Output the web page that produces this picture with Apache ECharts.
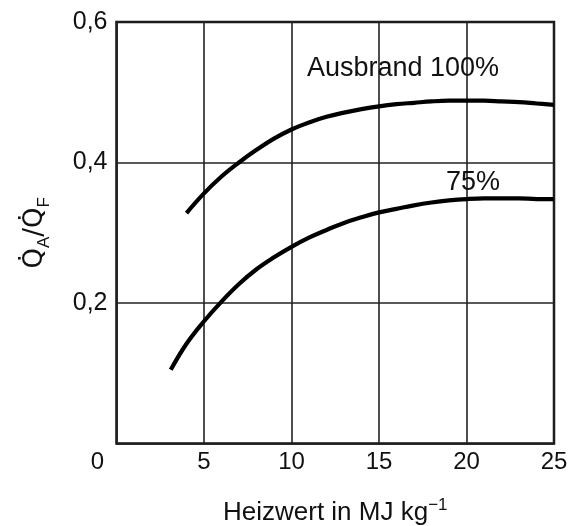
<!DOCTYPE html>
<html>
<head>
<meta charset="utf-8">
<script src="https://cdn.jsdelivr.net/npm/echarts@6/dist/echarts.min.js"></script>
<style>
  html, body { margin: 0; padding: 0; background: #fff; }
  #main { width: 571px; height: 526px; }
</style>
</head>
<body>
<div id="main"></div>
<script>
// Heizwert (MJ/kg) und Verhältnis Q_A/Q_F
var heizwert100 = [4, 5, 6, 7, 8, 9, 10, 11, 12, 13, 14, 15, 16, 17, 18, 19, 20, 21, 22, 23, 24, 25];
var ausbrand100 = [0.328, 0.356, 0.380, 0.400, 0.418, 0.434, 0.447, 0.457, 0.465, 0.471, 0.476, 0.480,
                   0.483, 0.485, 0.487, 0.488, 0.488, 0.488, 0.487, 0.486, 0.484, 0.482];

var heizwert75 = [3.1, 4, 5, 6, 7, 8, 9, 10, 11, 12, 13, 14, 15, 16, 17, 18, 19, 20, 21, 22, 23, 24, 25];
var ausbrand75 = [0.105, 0.142, 0.174, 0.202, 0.227, 0.248, 0.265, 0.280, 0.293, 0.304, 0.314, 0.322,
                  0.329, 0.334, 0.339, 0.343, 0.346, 0.348, 0.349, 0.349, 0.349, 0.348, 0.348];

var xTicks = [0, 5, 10, 15, 20, 25];
var yTicks = [0, 0.2, 0.4, 0.6];

var labels = [
  { text: 'Ausbrand 100%', coord: [16.37, 0.534] },
  { text: '75%', coord: [20.37, 0.372] }
];

var FONT = '"Liberation Sans", Arial, sans-serif';

function pairs(xs, ys) {
  return xs.map(function (x, i) { return [x, ys[i]]; });
}

function curve(name, xs, ys, lab) {
  return {
    name: name,
    type: 'line',
    data: pairs(xs, ys),
    smooth: 0.4,
    showSymbol: false,
    lineStyle: { color: '#000', width: 4.2 },
    markPoint: {
      symbol: 'circle',
      symbolSize: 0,
      data: [{ coord: lab.coord, value: lab.text }],
      label: {
        show: true,
        formatter: lab.text,
        color: '#111',
        fontSize: 27,
        fontFamily: FONT
      }
    }
  };
}

var myChart = echarts.init(document.getElementById('main'));

var option = {
  backgroundColor: '#fff',
  animation: false,
  grid: {
    left: 116.5, right: 17, top: 22, bottom: 82.5,
    outerBoundsMode: 'none',
    show: true,
    borderColor: '#111',
    borderWidth: 2.5
  },
  xAxis: {
    type: 'value',
    min: xTicks[0],
    max: xTicks[xTicks.length - 1],
    interval: 5,
    name: '{t|Heizwert in MJ kg}{sup|\u22121}',
    nameLocation: 'middle',
    nameGap: 53,
    nameTextStyle: {
      color: '#111',
      fontFamily: FONT,
      rich: {
        t: { fontSize: 26, fontFamily: FONT, color: '#111', lineHeight: 32 },
        sup: { fontSize: 17, fontFamily: FONT, color: '#111', verticalAlign: 'top' }
      }
    },
    axisLine: { show: false },
    axisTick: { show: false },
    axisLabel: {
      color: '#111',
      fontSize: 24,
      fontFamily: FONT,
      margin: 7,
      formatter: function (v) {
        return v === 0 ? '{z|0}' : String(v);
      },
      rich: {
        z: { fontSize: 24, fontFamily: FONT, color: '#111', padding: [0, 38, 0, 0] }
      }
    },
    splitLine: { show: true, lineStyle: { color: '#222', width: 1.6 } }
  },
  yAxis: {
    type: 'value',
    min: yTicks[0],
    max: yTicks[yTicks.length - 1],
    interval: 0.2,
    name: '{q|Q\u0307}{s|A}{q|/Q\u0307}{s|F}',
    nameLocation: 'middle',
    nameRotate: 90,
    nameGap: 64,
    nameTextStyle: {
      color: '#111',
      fontFamily: FONT,
      rich: {
        q: { fontSize: 26, fontFamily: '"DejaVu Sans", sans-serif', color: '#111', lineHeight: 34 },
        s: { fontSize: 17, fontFamily: FONT, color: '#111', verticalAlign: 'bottom' }
      }
    },
    axisLine: { show: false },
    axisTick: { show: false },
    axisLabel: {
      color: '#111',
      fontSize: 25,
      fontFamily: FONT,
      margin: 9,
      formatter: function (v) {
        return v === 0 ? '' : v.toFixed(1).replace('.', ',');
      }
    },
    splitLine: { show: true, lineStyle: { color: '#222', width: 1.6 } }
  },
  series: [
    curve('Ausbrand 100%', heizwert100, ausbrand100, labels[0]),
    curve('Ausbrand 75%', heizwert75, ausbrand75, labels[1])
  ]
};

myChart.setOption(option);
</script>
</body>
</html>
